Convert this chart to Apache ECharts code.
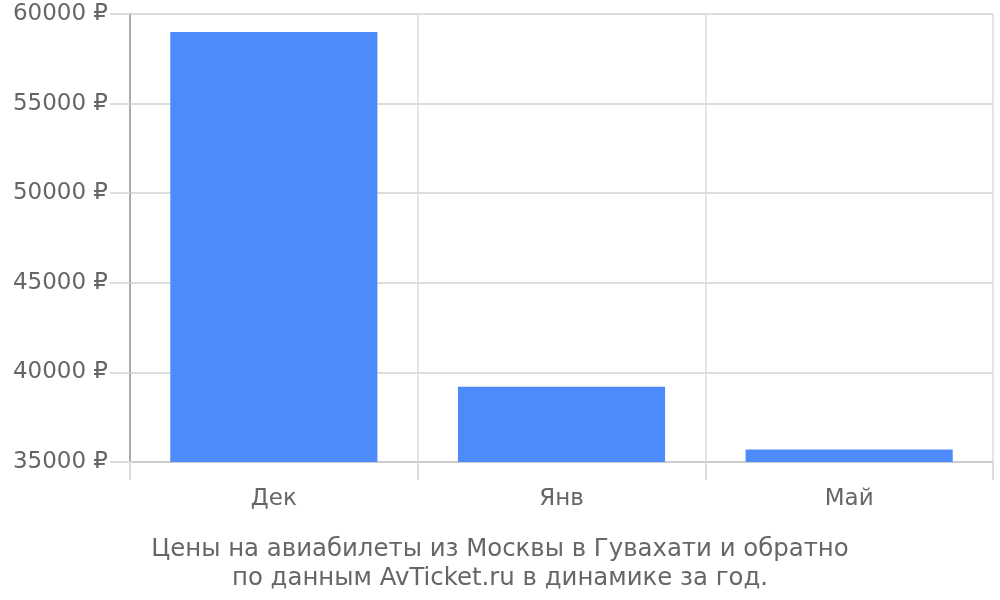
<!DOCTYPE html>
<html>
<head>
<meta charset="utf-8">
<script src="https://cdn.jsdelivr.net/npm/echarts@6/dist/echarts.min.js"></script>
<style>
  html, body { margin: 0; padding: 0; background: #fff; }
  #chart { width: 1000px; height: 600px; }
</style>
</head>
<body>
<div id="chart"></div>
<script>
// data
var months = ['Дек', 'Янв', 'Май'];
var prices = [59000, 39200, 35700];
var yTicks = [35000, 40000, 45000, 50000, 55000, 60000];
var caption = 'Цены на авиабилеты из Москвы в Гувахати и обратно\nпо данным AvTicket.ru в динамике за год.';

var myChart = echarts.init(document.getElementById('chart'));

var textColor = '#666666';
var gridColor = '#dddddd';
var font = 'DejaVu Sans';

var option = {
    animation: false,
    textStyle: { fontFamily: font },
    title: {
        text: caption,
        left: 'center',
        top: 530,
        textStyle: {
            fontFamily: font,
            fontSize: 24.4,
            fontWeight: 'normal',
            color: textColor,
            lineHeight: 29
        }
    },
    grid: {
        left: 130,
        right: 7,
        top: 14,
        bottom: 138
    },
    xAxis: {
        type: 'category',
        data: months,
        boundaryGap: true,
        axisLine: { lineStyle: { color: '#cccccc', width: 2 } },
        axisTick: { show: true, length: 18, lineStyle: { color: gridColor, width: 2 } },
        axisLabel: {
            fontSize: 23,
            color: textColor,
            margin: 26,
            fontFamily: font
        },
        splitLine: { show: true, lineStyle: { color: gridColor, width: 1.5 } }
    },
    yAxis: {
        type: 'value',
        min: yTicks[0],
        max: yTicks[yTicks.length - 1],
        interval: yTicks[1] - yTicks[0],
        axisLine: { show: true, lineStyle: { color: '#aaaaaa', width: 2 } },
        axisTick: { show: true, length: 20, lineStyle: { color: gridColor, width: 2 } },
        axisLabel: {
            fontSize: 23,
            color: textColor,
            margin: 22,
            padding: [8, 0, 0, 0],
            fontFamily: font,
            formatter: function (v) { return v + ' ₽'; }
        },
        splitLine: { show: true, lineStyle: { color: gridColor, width: 2 } }
    },
    series: [
        {
            type: 'bar',
            data: prices,
            barCategoryGap: '28%',
            itemStyle: { color: '#4e8bfa' }
        }
    ]
};

myChart.setOption(option);
</script>
</body>
</html>
